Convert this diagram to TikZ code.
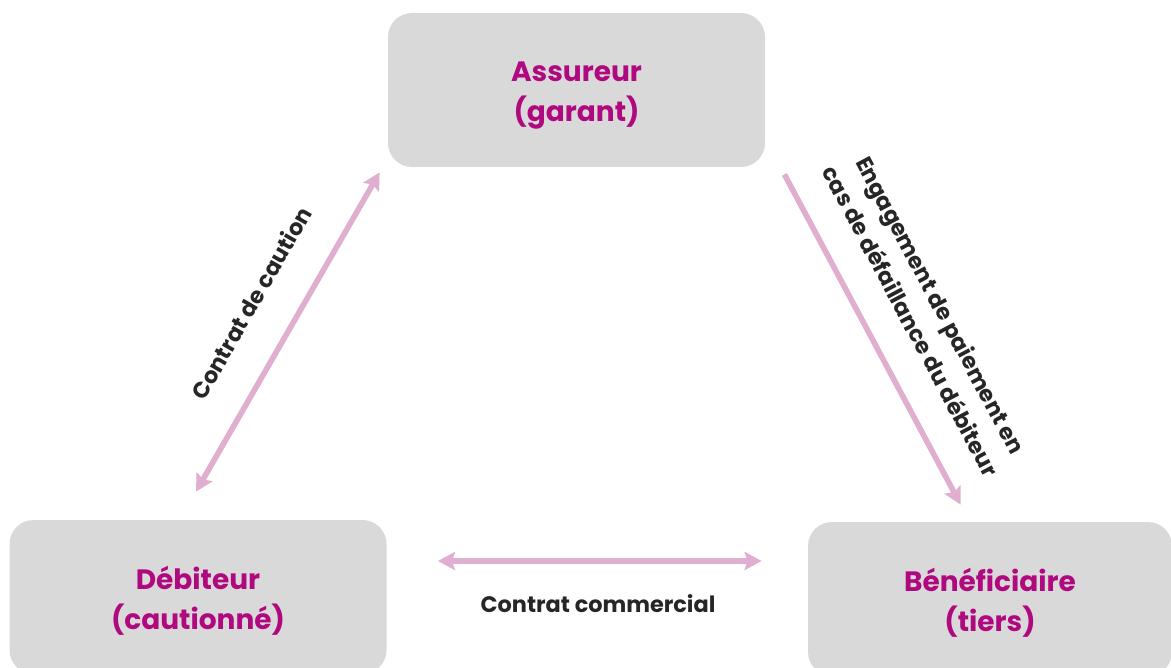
\documentclass[tikz,border=0pt]{standalone}
\usepackage{fontspec}
\setmainfont{Poppins}
\usetikzlibrary{
  arrows.meta,
  calc,
}
\definecolor{boxgrey}{HTML}{D9D9D9}
\definecolor{titlemagenta}{HTML}{B0087F}
\definecolor{linkpink}{HTML}{E0AECF}
\definecolor{labelgrey}{HTML}{262626}

\begin{document}
\begin{tikzpicture}[
  x=0.5pt, y=-0.5pt,
  >={Stealth[length=8.5pt,width=9pt,inset=1.5pt]},
  party/.style={fill=boxgrey, rounded corners=12pt, minimum width=188.5pt, minimum height=77pt, inner sep=0pt, align=center, text=titlemagenta, font=\bfseries\fontsize{14}{20}\selectfont,
    text height=37pt, text depth=5pt},
  link/.style={draw=linkpink, line width=2.8pt},
  linklabel/.style={align=center, text=labelgrey, font=\bfseries\fontsize{11.2}{17}\selectfont},
]
\useasboundingbox (0,0) rectangle (1171,668);
\clip (0,0) rectangle (1171,668);
\node[party] (assureur) at (576.5,90) {Assureur\\(garant)};
\node[party] (debiteur) at (198,597) {Débiteur\\(cautionné)};
\node[party, minimum width=182pt] (benef) at (990,599) {Bénéficiaire\\(tiers)};

\draw[link,<->] ($(debiteur.north)+(-2,-28)$) -- ($(assureur.south west)+(-8,5)$);
\draw[link,->] ($(assureur.south east)+(19,7)$) -- ($(benef.north west)+(153,-17)$);
\draw[link,<->] ($(debiteur.east)+(51,-36)$) -- ($(benef.west)+(-46,-38)$);

\node[linklabel, rotate=60] (caution) at (251,303) {Contrat de caution};
\node[linklabel, rotate=-62] (engagement) at (926,313) {Engagement de paiement en\\cas de défaillance du débiteur};
\node[linklabel] (commercial) at (598,604) {Contrat commercial};
\end{tikzpicture}
\end{document}
